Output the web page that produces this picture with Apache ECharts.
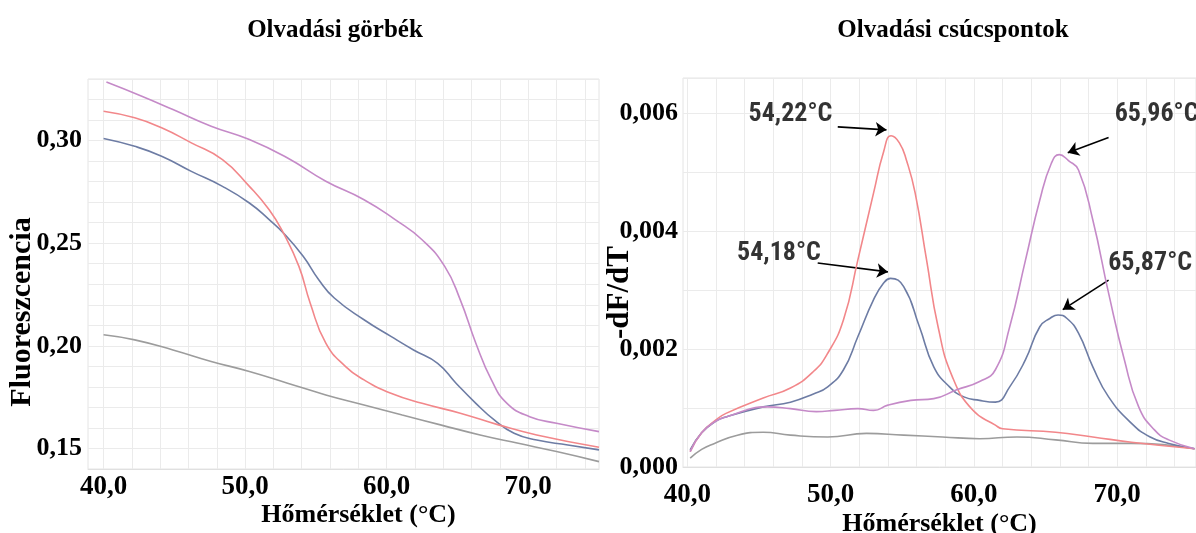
<!DOCTYPE html>
<html>
<head>
<meta charset="utf-8">
<script src="https://cdn.jsdelivr.net/npm/echarts@6/dist/echarts.min.js"></script>
<style>
html,body{margin:0;padding:0;background:#fff;}
#c{width:1196px;height:533px;}
</style>
</head>
<body>
<div id="c"></div>
<script>
// ---------- DATA ----------
// Left chart: melting curves (Fluoreszcencia vs temperature)
const meltPurple = [[40.2,0.3285],[42.7,0.3216],[44.9,0.3151],[47.6,0.3070],[50.3,0.3005],[53.0,0.2915],[55.7,0.2802],[58.4,0.2712],[60.6,0.2615],[62.5,0.2517],[64.1,0.2387],[65.2,0.2224],[66.3,0.2013],[67.4,0.1834],[68.5,0.1720],[70.1,0.1655],[72.0,0.1623],[75.0,0.1582]];
const meltRed = [[40.0,0.3143],[42.2,0.3111],[44.1,0.3062],[46.2,0.2989],[48.4,0.2907],[50.3,0.2777],[51.7,0.2663],[52.7,0.2550],[53.8,0.2387],[54.6,0.2208],[55.7,0.2013],[57.1,0.1899],[58.4,0.1834],[60.3,0.1769],[62.5,0.1720],[65.2,0.1672],[67.9,0.1615],[70.6,0.1566],[75.0,0.1506]];
const meltBlue = [[40.0,0.3010],[42.2,0.2972],[44.1,0.2924],[46.2,0.2850],[48.4,0.2777],[50.3,0.2696],[51.7,0.2615],[52.7,0.2550],[54.1,0.2436],[55.2,0.2322],[56.3,0.2233],[58.4,0.2127],[60.3,0.2046],[61.9,0.1980],[63.6,0.1915],[64.9,0.1818],[66.3,0.1720],[67.6,0.1639],[69.0,0.1574],[70.6,0.1541],[72.8,0.1517],[75.0,0.1493]];
const meltGray = [[40.0,0.2054],[42.2,0.2029],[44.9,0.1980],[47.6,0.1924],[50.3,0.1875],[53.0,0.1818],[55.7,0.1761],[58.4,0.1712],[61.1,0.1663],[63.8,0.1615],[66.6,0.1566],[69.3,0.1525],[72.0,0.1485],[75.0,0.1436]];

// Right chart: melting peaks (-dF/dT vs temperature)
const peakRed = [[40.2,0.00026],[41.0,0.00058],[42.0,0.00080],[42.7,0.00091],[45.3,0.00117],[47.2,0.00134],[48.8,0.00162],[49.8,0.00193],[50.9,0.00250],[51.9,0.00351],[53.0,0.00465],[53.7,0.00535],[54.22,0.00562],[54.8,0.00550],[55.3,0.00520],[55.9,0.00465],[56.7,0.00351],[57.5,0.00238],[58.5,0.00153],[59.9,0.00097],[61.5,0.00071],[62.0,0.00065],[65.7,0.00059],[68.3,0.00051],[71.0,0.00042],[75.4,0.00031]];
const peakBlue = [[40.2,0.00029],[41.0,0.00058],[42.0,0.00078],[42.7,0.00085],[45.3,0.00102],[47.2,0.00110],[48.8,0.00124],[49.8,0.00136],[50.9,0.00165],[51.9,0.00221],[53.0,0.00284],[53.7,0.00312],[54.18,0.00320],[55.1,0.00306],[56.2,0.00238],[57.2,0.00170],[58.3,0.00136],[59.3,0.00119],[60.4,0.00113],[61.5,0.00110],[62.5,0.00136],[63.6,0.00182],[64.6,0.00238],[65.3,0.00252],[65.87,0.00258],[66.5,0.00252],[67.3,0.00227],[68.3,0.00170],[69.4,0.00119],[71.0,0.00074],[72.3,0.00051],[73.6,0.00040],[75.4,0.00031]];
const peakPurple = [[40.2,0.00026],[41.0,0.00058],[42.0,0.00078],[42.7,0.00085],[45.6,0.00102],[47.2,0.00099],[49.0,0.00094],[50.3,0.00096],[51.9,0.00099],[53.0,0.00096],[54.0,0.00105],[55.6,0.00113],[57.2,0.00116],[58.8,0.00131],[60.4,0.00145],[61.5,0.00165],[62.5,0.00238],[63.6,0.00351],[64.6,0.00453],[65.4,0.00515],[65.96,0.00530],[66.6,0.00520],[67.3,0.00504],[68.3,0.00419],[69.4,0.00295],[70.5,0.00182],[71.5,0.00102],[72.6,0.00063],[73.6,0.00046],[75.4,0.00031]];
const peakGray = [[40.2,0.00015],[41.0,0.00030],[41.9,0.00040],[43.5,0.00054],[45.3,0.00059],[47.2,0.00054],[49.8,0.00051],[52.5,0.00057],[55.1,0.00054],[57.8,0.00051],[60.4,0.00048],[63.0,0.00051],[65.7,0.00046],[68.3,0.00040],[71.0,0.00040],[75.4,0.00031]];

// Peak temperature annotations
const peakTemps = [54.22, 65.96, 54.18, 65.87];

// Tick labels
const xTickValues = [40, 50, 60, 70];
const xGridValues = [40,42,44,46,48,50,52,54,56,58,60,62,64,66,68,70,72,74];

// ---------- STYLE / LAYOUT ----------
const C = {red:'#f2878a', blue:'#6d7ca4', purple:'#c58ac8', gray:'#9c9c9c'};
// annotation text anchor and arrow (start -> tip), in data coordinates
const annot = [
  {text:[47.2,0.00598], from:[50.5,0.00577], to:[53.9,0.00572]},
  {text:[72.75,0.00598], from:[69.4,0.00559], to:[66.55,0.00533]},
  {text:[46.4,0.00363], from:[49.1,0.00346], to:[54.0,0.00331]},
  {text:[72.3,0.00346], from:[69.4,0.00317], to:[66.2,0.00267]}
];
const fmtComma = (v,d)=> v.toFixed(d).replace('.', ',');
const serif = '"Liberation Serif", "Times New Roman", serif';
const narrow = '"Liberation Sans Narrow", "Arial Narrow", "Roboto Condensed", "Liberation Sans", sans-serif';

const tickFont = {fontFamily: serif, fontWeight:'bold', fontSize:26, color:'#000'};
const gridLine = {show:true, lineStyle:{color:'#ebebeb', width:1}};

function lineSeries(data, color, xi, yi){
  return {type:'line', data, xAxisIndex:xi, yAxisIndex:yi, showSymbol:false, smooth:0.5,
    lineStyle:{color, width:1.6}, itemStyle:{color}, silent:true, animation:false};
}

const chart = echarts.init(document.getElementById('c'), null, {renderer:'canvas'});
chart.setOption({
  animation:false,
  backgroundColor:'#fff',
  title:[
    {text:'Olvadási görbék', left:330, top:13, textAlign:'center',
     textStyle:{fontFamily:serif, fontWeight:'bold', fontSize:25, color:'#000'}},
    {text:'Olvadási csúcspontok', left:948, top:13, textAlign:'center',
     textStyle:{fontFamily:serif, fontWeight:'bold', fontSize:25, color:'#000'}}
  ],
  grid:[
    {left:88, top:79, width:511, height:390, show:true, borderColor:'#e4e4e4', borderWidth:1,
     backgroundColor:'transparent', outerBoundsMode:'none', containLabel:false},
    {left:683, top:78, width:513, height:389, show:true, borderColor:'#e4e4e4', borderWidth:1,
     backgroundColor:'transparent', outerBoundsMode:'none', containLabel:false}
  ],
  xAxis:[
    {type:'value', gridIndex:0, min:38.9, max:75.0,
     name:'Hőmérséklet (°C)', nameLocation:'middle', nameGap:33, nameMoveOverlap:false,
     nameTextStyle:{fontFamily:serif, fontWeight:'bold', fontSize:26, color:'#000', padding:[0,0,0,30]},
     axisLine:{show:true, lineStyle:{color:'#e0e0e0'}}, axisTick:{show:false, customValues:xGridValues},
     axisLabel:{customValues:xTickValues, margin:5, formatter:v=>fmtComma(v,1), ...tickFont, fontSize:27},
     splitLine:gridLine},
    {type:'value', gridIndex:1, min:39.7, max:75.5,
     name:'Hőmérséklet (°C)', nameLocation:'middle', nameGap:44, nameMoveOverlap:false,
     nameTextStyle:{fontFamily:serif, fontWeight:'bold', fontSize:26, color:'#000'},
     axisLine:{show:true, lineStyle:{color:'#e0e0e0'}}, axisTick:{show:false, customValues:xGridValues},
     axisLabel:{customValues:xTickValues, margin:15, formatter:v=>fmtComma(v,1), ...tickFont, fontSize:27},
     splitLine:gridLine}
  ],
  yAxis:[
    {type:'value', gridIndex:0, min:0.14, max:0.33, interval:0.01,
     name:'Fluoreszcencia', nameLocation:'middle', nameGap:51, nameRotate:90, nameMoveOverlap:false,
     nameTextStyle:{fontFamily:serif, fontWeight:'bold', fontSize:30, color:'#000', padding:[0,76,0,0]},
     axisLine:{show:false}, axisTick:{show:false},
     axisLabel:{margin:6, ...tickFont, formatter:v=>{const k=Math.round(v*100); return (k%5===0 && k>=15 && k<=30)?fmtComma(k/100,2):'';}},
     splitLine:gridLine},
    {type:'value', gridIndex:1, min:0, max:0.0066, interval:0.001,
     name:'-dF/dT', nameLocation:'middle', nameGap:48, nameRotate:90, nameMoveOverlap:false,
     nameTextStyle:{fontFamily:serif, fontWeight:'bold', fontSize:31, color:'#000', padding:[0,40,0,0]},
     axisLine:{show:false}, axisTick:{show:false},
     axisLabel:{margin:5, ...tickFont, verticalAlignMinLabel:'middle',
       formatter:v=>{const k=Math.round(v*1000); return (k%2===0)?fmtComma(k/1000,3):'';}},
     splitLine:gridLine}
  ],
  series:[
    lineSeries(meltGray, C.gray, 0, 0),
    lineSeries(meltBlue, C.blue, 0, 0),
    lineSeries(meltRed, C.red, 0, 0),
    lineSeries(meltPurple, C.purple, 0, 0),
    lineSeries(peakGray, C.gray, 1, 1),
    lineSeries(peakBlue, C.blue, 1, 1),
    lineSeries(peakRed, C.red, 1, 1),
    lineSeries(peakPurple, C.purple, 1, 1),
    {type:'lines', coordinateSystem:'cartesian2d', xAxisIndex:1, yAxisIndex:1, silent:true,
     symbol:['none','arrow'], symbolSize:11,
     lineStyle:{color:'#000', width:1.6, opacity:1},
     data: annot.map(a=>({coords:[a.from, a.to]}))},
    {type:'scatter', xAxisIndex:1, yAxisIndex:1, silent:true, symbolSize:1,
     itemStyle:{color:'rgba(0,0,0,0)'},
     label:{show:true, position:'inside', formatter:p=>p.data[2],
            fontFamily:narrow, fontWeight:'bold', fontSize:26, color:'#000', textBorderWidth:0},
     data: annot.map((a,i)=>[a.text[0], a.text[1], fmtComma(peakTemps[i],2)+'°C'])}
  ]
});
</script>
</body>
</html>
